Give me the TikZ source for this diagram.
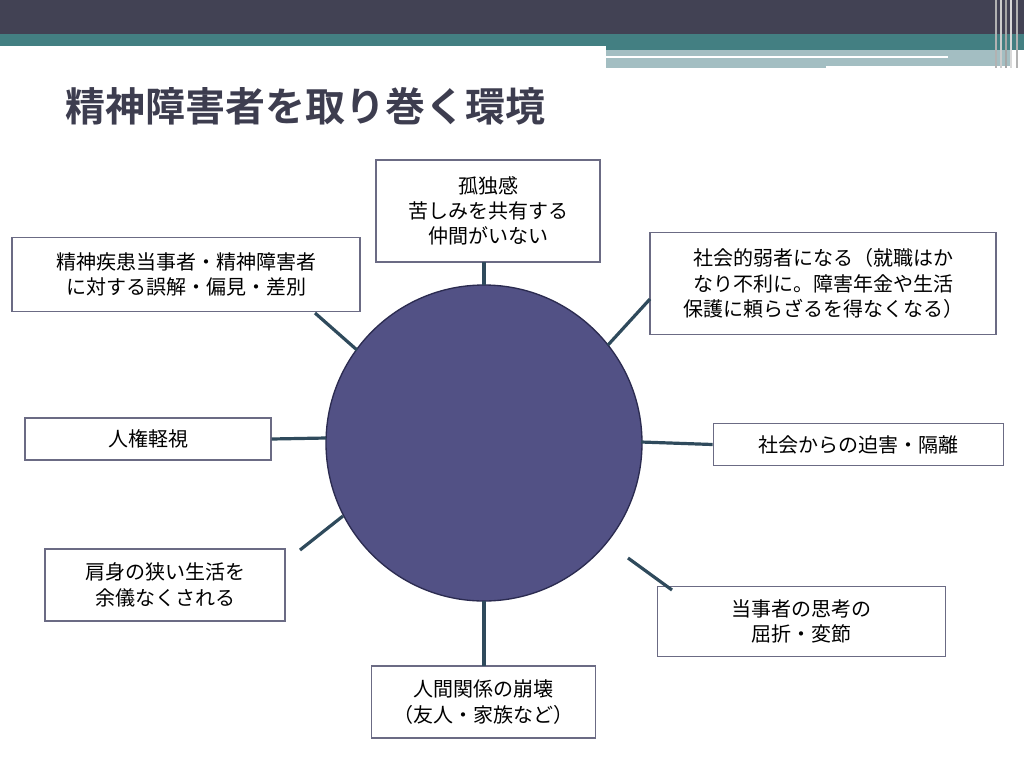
\documentclass[tikz,border=0pt]{standalone}
\usepackage{fontspec}
\setmainfont{Noto Sans CJK JP}
\newfontfamily\titlefont{Noto Sans CJK JP Bold}
\definecolor{darkbar}{HTML}{424254}
\definecolor{tealbar}{HTML}{437F82}
\definecolor{lightbar}{HTML}{A3BEC2}
\definecolor{circfill}{HTML}{525185}
\definecolor{circline}{HTML}{2B2B50}
\definecolor{conn}{HTML}{2F4A5C}
\definecolor{titlec}{HTML}{3D3D4F}
\begin{document}
\begin{tikzpicture}[x=0.75pt,y=-0.75pt,
  box/.style={draw=circline!70,line width=0.8pt,fill=white,align=center,font=\fontsize{15}{19}\selectfont,inner sep=0pt},
  link/.style={draw=conn,line width=2.4pt}]
\useasboundingbox (0,0) rectangle (1024,768);
\fill[white] (0,0) rectangle (1024,768);
\fill[darkbar] (0,0) rectangle (1024,34);
\fill[tealbar] (0,34) rectangle (1024,46);
\fill[tealbar] (606,34) rectangle (1024,50);
\fill[lightbar] (606,50) rectangle (1010,68);
\fill[white] (606,56) rectangle (948,58);
\fill[white] (826,66) rectangle (1010,68);
\foreach \x/\c in {995/gray!60,1000/gray!40,1005/gray!70,1010/gray!30,1016/gray!60}{\fill[\c] (\x,0) rectangle (\x+2,68);}
\node[anchor=west,text=titlec,font=\titlefont\fontsize{30}{34}\selectfont,inner sep=0pt] (title) at (65,106) {精神障害者を取り巻く環境};
\node[circle,draw=circline,fill=circfill,line width=1pt,minimum size=237pt,inner sep=0pt] (c) at (484,443) {};
\node[box,minimum width=168pt,minimum height=76.5pt] (b1) at (488,211) {孤独感\\苦しみを共有する\\仲間がいない};
\node[box,minimum width=261pt,minimum height=55pt] (b2) at (186,274.5) {精神疾患当事者・精神障害者\\に対する誤解・偏見・差別};
\node[box,minimum width=259.5pt,minimum height=77pt] (b3) at (823,283.5) {社会的弱者になる（就職はか\\なり不利に。障害年金や生活\\保護に頼らざるを得なくなる）};
\node[box,minimum width=184.5pt,minimum height=31.5pt] (b4) at (148,439) {人権軽視};
\node[box,minimum width=218pt,minimum height=31pt] (b5) at (858.5,444.5) {社会からの迫害・隔離};
\node[box,minimum width=180pt,minimum height=54pt] (b6) at (165,585) {肩身の狭い生活を\\余儀なくされる};
\node[box,minimum width=216.5pt,minimum height=53pt] (b7) at (801.5,621.5) {当事者の思考の\\屈折・変節};
\node[box,minimum width=168.5pt,minimum height=54pt] (b8) at (483.5,702) {人間関係の崩壊\\（友人・家族など）};
\coordinate (t1) at (484,262); \coordinate (t8) at (484,666);
\begin{scope}[on background layer/.try]
\end{scope}
\draw[link] (484,285) -- (t1);
\draw[link] (484,601) -- (t8);
\draw[link] (357,350) -- (315,313);
\draw[link] (608,345) -- (650,299);
\draw[link] (326,438) -- (b4.east);
\draw[link] (641,442) -- (b5.west);
\draw[link] (343,516) -- (300,550);
\draw[link] (628,558) -- (672,590);
\end{tikzpicture}
\end{document}
